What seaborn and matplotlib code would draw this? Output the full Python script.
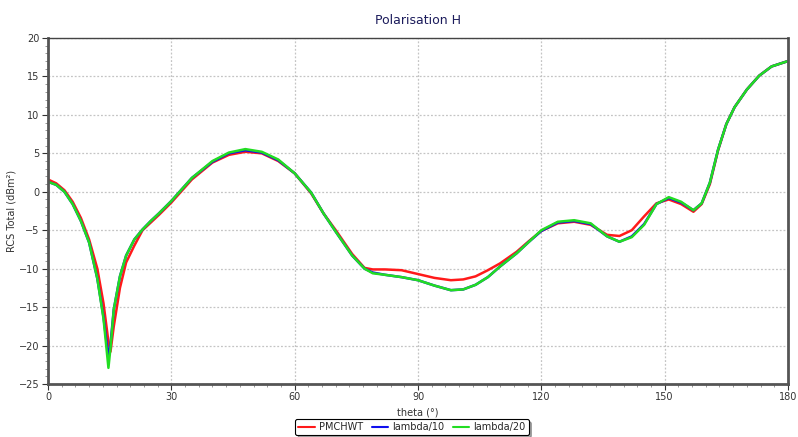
import numpy as np
import pandas as pd
import matplotlib
matplotlib.use("Agg")
import matplotlib.pyplot as plt
from matplotlib.ticker import MultipleLocator
import seaborn as sns

theta = [0, 2, 4, 6, 8, 10, 12, 13.5, 14.7, 15.2, 16, 17.5, 19, 21, 23, 25, 27, 30, 32, 35,
         40, 44, 48, 52, 56, 60, 64, 67, 70, 74, 77, 79, 82, 86, 90, 94, 98, 101, 104, 107,
         110, 114, 117, 120, 124, 128, 132, 136, 139, 142, 145, 148, 151, 154, 157, 159, 161,
         163, 165, 167, 170, 173, 176, 180]

pmchwt = [1.6, 1.1, 0.2, -1.3, -3.4, -6.2, -10.0, -14.5, -19.5, -20.8, -17.5, -12.5, -9.2, -7.0,
          -5.0, -4.0, -3.0, -1.4, -0.2, 1.6, 3.8, 4.8, 5.2, 5.0, 4.0, 2.4, -0.2, -2.8, -5.0, -8.1,
          -9.9, -10.1, -10.1, -10.2, -10.7, -11.2, -11.5, -11.4, -11.0, -10.2, -9.3, -7.8, -6.4,
          -5.1, -4.1, -3.9, -4.3, -5.6, -5.75, -5.0, -3.2, -1.5, -1.0, -1.6, -2.6, -1.6, 1.0,
          5.4, 8.8, 11.0, 13.3, 15.1, 16.3, 17.0]

lambda10 = [1.3, 0.9, 0.0, -1.6, -3.8, -6.6, -11.3, -16.3, -21.6, -19.8, -15.3, -11.0, -8.3, -6.2,
            -4.9, -3.8, -2.8, -1.2, 0.0, 1.8, 3.9, 5.0, 5.4, 5.1, 4.1, 2.4, -0.1, -2.8, -5.2, -8.3,
            -10.0, -10.5, -10.8, -11.1, -11.5, -12.2, -12.8, -12.7, -12.1, -11.1, -9.7, -8.0, -6.5,
            -5.1, -4.0, -3.8, -4.2, -5.8, -6.5, -5.8, -4.2, -1.6, -0.8, -1.4, -2.4, -1.5, 1.2,
            5.5, 8.8, 11.0, 13.3, 15.1, 16.3, 17.0]

lambda20 = [1.3, 0.9, 0.0, -1.6, -3.8, -6.6, -11.3, -16.5, -22.9, -20.3, -15.3, -11.0, -8.3, -6.2,
            -4.9, -3.8, -2.8, -1.2, 0.0, 1.8, 4.0, 5.1, 5.55, 5.2, 4.2, 2.4, -0.1, -2.8, -5.2, -8.3,
            -10.0, -10.6, -10.8, -11.1, -11.5, -12.2, -12.8, -12.7, -12.1, -11.1, -9.7, -8.0, -6.5,
            -5.0, -3.9, -3.7, -4.1, -5.8, -6.5, -5.9, -4.3, -1.6, -0.7, -1.3, -2.4, -1.5, 1.2,
            5.5, 8.8, 11.0, 13.3, 15.1, 16.3, 17.0]

series_names = ["PMCHWT", "lambda/10", "lambda/20"]
series_colors = ["#ff1a1a", "#1010ee", "#22dd22"]

df = pd.concat([
    pd.DataFrame({"theta": theta, "rcs": vals, "series": name})
    for name, vals in zip(series_names, [pmchwt, lambda10, lambda20])
], ignore_index=True)

sns.set_theme(style="white")
plt.rcParams["font.family"] = ["DejaVu Sans"]

fig = plt.figure(figsize=(7.98, 4.37), dpi=100)
ax = fig.add_axes([48 / 798, 1 - 384 / 437, 740 / 798, 346 / 437])

sns.lineplot(data=df, x="theta", y="rcs", hue="series", hue_order=series_names,
             palette=dict(zip(series_names, series_colors)), linewidth=1.8,
             sort=False, estimator=None, ax=ax)

ax.set_xlim(0, 180)
ax.set_ylim(-25, 20)
ax.xaxis.set_major_locator(MultipleLocator(30))
ax.xaxis.set_minor_locator(MultipleLocator(30 / 9))
ax.yaxis.set_major_locator(MultipleLocator(5))
ax.yaxis.set_minor_locator(MultipleLocator(1))
ax.grid(True, which="major", color="#c4c4c4", linestyle=(0, (1.5, 1.5)), linewidth=0.9)
ax.set_axisbelow(True)

ax.tick_params(axis="both", which="major", direction="out", length=4, width=0.8,
               labelsize=7, colors="#333333", pad=2)
ax.tick_params(axis="both", which="minor", direction="out", length=2, width=0.6, colors="#888888")
ax.tick_params(axis="both", which="both", bottom=True, left=True)

for side in ["left", "bottom", "right"]:
    ax.spines[side].set_color("#555555")
    ax.spines[side].set_linewidth(2.0)
ax.spines["top"].set_color("#444444")
ax.spines["top"].set_linewidth(1.0)

ax.set_title("Polarisation H", fontsize=9, color="#1c1c5c", pad=10)
ax.set_xlabel("theta (°)", fontsize=7, color="#333333", labelpad=4)
ax.set_ylabel("RCS Total (dBm²)", fontsize=7, color="#333333", labelpad=2)

handles, labels = ax.get_legend_handles_labels()
ax.get_legend().remove()
leg = fig.legend(handles, labels, loc="center", bbox_to_anchor=(412 / 798, 1 - 427 / 437),
                 ncol=3, fontsize=7, frameon=True, fancybox=True, shadow=True,
                 handlelength=1.7, columnspacing=0.9, borderpad=0.3, handletextpad=0.4)
leg.get_frame().set_edgecolor("black")
leg.get_frame().set_linewidth(0.8)
for line in leg.get_lines():
    line.set_linewidth(1.5)

fig.savefig("out.png", dpi=100)
